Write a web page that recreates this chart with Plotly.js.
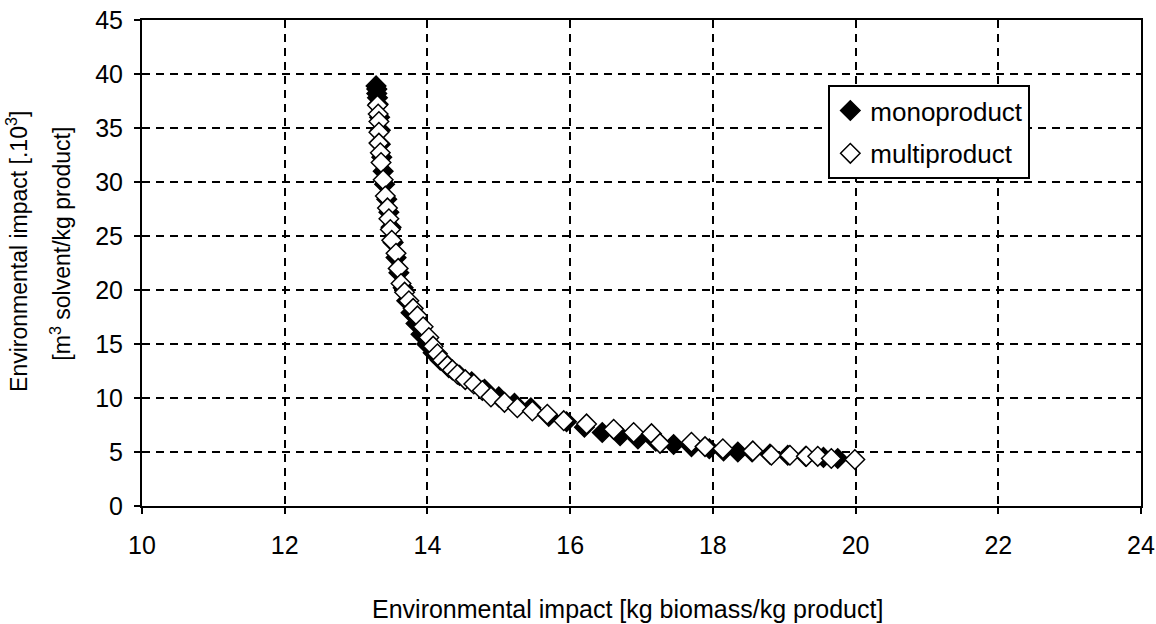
<!DOCTYPE html>
<html>
<head>
<meta charset="utf-8">
<script src="https://cdn.plot.ly/plotly-3.0.1.min.js"></script>
<style>html,body{margin:0;padding:0;background:#fff;}#chart{width:1156px;height:624px;}</style>
</head>
<body>
<div id="chart"></div>
<script>
// Monoproduct series (filled diamonds)
const monoX = [13.28,13.29,13.29,13.30,13.31,13.33,13.34,13.34,13.36,13.38,13.40,13.43,13.46,13.49,13.52,13.56,13.60,13.66,13.71,13.77,13.84,13.91,13.99,14.08,14.18,14.30,14.45,14.62,14.80,15.00,15.22,15.45,15.70,15.95,16.20,16.45,16.70,16.95,17.20,17.45,17.70,17.95,18.15,18.35,18.55,18.80,19.05,19.30,19.55,19.75];
const monoY = [38.9,38.6,38.2,37.8,37.2,36.0,34.8,33.5,32.3,31.0,29.8,28.4,27.2,25.8,24.4,23.0,21.6,20.2,19.0,17.9,16.9,15.9,15.0,14.2,13.5,12.8,12.1,11.5,10.8,10.1,9.5,9.1,8.3,7.8,7.3,6.8,6.5,6.2,6.0,5.7,5.5,5.3,5.1,5.0,5.0,4.8,4.7,4.6,4.5,4.4];
// Multiproduct series (open diamonds)
const multiX = [13.30,13.31,13.32,13.32,13.32,13.34,13.35,13.38,13.41,13.44,13.46,13.48,13.50,13.56,13.59,13.63,13.68,13.74,13.80,13.86,13.94,14.02,14.08,14.14,14.21,14.28,14.35,14.42,14.53,14.65,14.77,14.89,15.08,15.26,15.47,15.68,15.91,16.23,16.61,16.89,17.14,17.26,17.70,17.89,18.14,18.56,18.82,19.08,19.31,19.47,19.66,19.99];
const multiY = [37.1,36.3,35.6,34.6,33.6,32.7,31.8,30.2,28.7,27.6,26.6,25.6,24.6,23.4,22.0,20.6,19.8,19.0,18.3,17.6,16.6,15.6,14.8,14.1,13.5,13.0,12.6,12.2,11.7,11.3,10.7,10.1,9.6,9.1,8.8,8.5,7.9,7.6,7.1,6.8,6.7,5.8,5.9,5.5,5.3,5.1,4.7,4.7,4.6,4.6,4.4,4.3];

const seriesNames = ["monoproduct", "multiproduct"];
const xTitle = "Environmental impact [kg biomass/kg product]";
const yTitle1 = "Environmental impact [.10<sup>3</sup>]";
const yTitle2 = "[m<sup>3</sup> solvent/kg product]";

const FONT = "Liberation Sans, Arial, sans-serif";

const traces = [
  {x: monoX, y: monoY, name: seriesNames[0], legendgroup: "a", type: "scatter", mode: "markers",
   marker: {symbol: "diamond", size: 15, color: "#000", line: {color: "#000", width: 1.5}}},
  {x: multiX, y: multiY, name: seriesNames[1], legendgroup: "b", type: "scatter", mode: "markers",
   marker: {symbol: "diamond", size: 15, color: "#fff", line: {color: "#000", width: 1.5}}}
];

const axisCommon = {
  showline: true, linecolor: "#000", linewidth: 2, mirror: true,
  ticks: "outside", ticklen: 6, tickwidth: 2, tickcolor: "#000",
  showgrid: true, gridcolor: "#000", gridwidth: 2, griddash: "8px,6px",
  zeroline: false, tickfont: {family: FONT, size: 25, color: "#000"}
};

const layout = {
  width: 1156, height: 624,
  margin: {l: 142, r: 15, t: 20, b: 118},
  paper_bgcolor: "#fff", plot_bgcolor: "#fff",
  font: {family: FONT, size: 25, color: "#000"},
  xaxis: Object.assign({}, axisCommon, {range: [10, 24], dtick: 2, tick0: 10, ticklabelstandoff: 10}),
  yaxis: Object.assign({}, axisCommon, {range: [0, 45], dtick: 5, tick0: 0, ticklabelstandoff: 6}),
  showlegend: true,
  legend: {x: 0.687, y: 0.866, xanchor: "left", yanchor: "top",
           bgcolor: "#fff", bordercolor: "#000", borderwidth: 2,
           font: {family: FONT, size: 26, color: "#000"}, itemwidth: 30, tracegroupgap: 6},
  annotations: [
    {text: xTitle, xref: "paper", yref: "paper", x: 0.4855, y: -0.212, xanchor: "center", yanchor: "middle",
     showarrow: false, font: {family: FONT, size: 25, color: "#000"}},
    {text: yTitle1, xref: "paper", yref: "paper", x: -0.125, y: 0.523, xanchor: "center", yanchor: "middle",
     textangle: -90, showarrow: false, font: {family: FONT, size: 23, color: "#000"}},
    {text: yTitle2, xref: "paper", yref: "paper", x: -0.082, y: 0.54, xanchor: "center", yanchor: "middle",
     textangle: -90, showarrow: false, font: {family: FONT, size: 23, color: "#000"}}
  ]
};

Plotly.newPlot("chart", traces, layout, {staticPlot: true, displayModeBar: false});
</script>
</body>
</html>
